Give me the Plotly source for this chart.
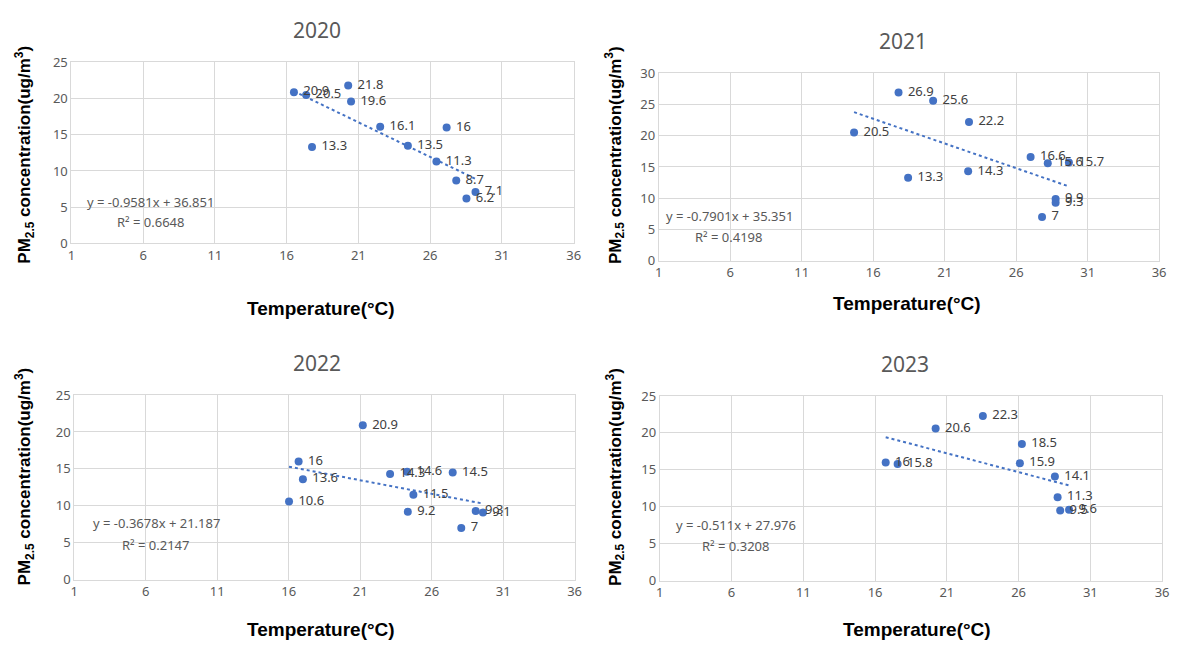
import plotly.graph_objects as go

W, H = 1178, 649

# ---------------- data ----------------
years = ["2020", "2021", "2022", "2023"]

x2020 = [16.51, 17.36, 20.29, 20.49, 22.52, 27.15, 17.77, 24.45, 26.44, 27.82, 29.16, 28.53]
y2020 = [20.9, 20.5, 21.8, 19.6, 16.1, 16, 13.3, 13.5, 11.3, 8.7, 7.1, 6.2]

x2021 = [14.66, 17.77, 18.44, 20.19, 22.64, 22.7, 27.01, 28.21, 29.69, 28.76, 28.76, 27.81]
y2021 = [20.5, 26.9, 13.3, 25.6, 14.3, 22.2, 16.6, 15.6, 15.7, 9.9, 9.3, 7]

x2022 = [16.02, 16.69, 16.99, 21.18, 23.09, 24.28, 24.72, 24.33, 27.47, 28.07, 29.08, 29.59]
y2022 = [10.6, 16, 13.6, 20.9, 14.3, 14.6, 11.5, 9.2, 14.5, 7, 9.3, 9.1]

x2023 = [16.74, 17.57, 20.22, 23.51, 26.23, 26.09, 28.53, 28.72, 28.9, 29.52]
y2023 = [16, 15.8, 20.6, 22.3, 18.5, 15.9, 14.1, 11.3, 9.5, 9.6]

slopes = [-0.9581, -0.7901, -0.3678, -0.511]
intercepts = [36.851, 35.351, 21.187, 27.976]
eq_texts = ["y = -0.9581x + 36.851", "y = -0.7901x + 35.351",
            "y = -0.3678x + 21.187", "y = -0.511x + 27.976"]
r2_texts = ["R² = 0.6648", "R² = 0.4198", "R² = 0.2147", "R² = 0.3208"]
ymax = [25, 30, 25, 25]

xs = [x2020, x2021, x2022, x2023]
ys = [y2020, y2021, y2022, y2023]

# ---------------- layout geometry (pixels) ----------------
# plot areas: (left, right, top, bottom)
areas = [(68, 575, 55, 241), (661, 1166, 66, 259), (71, 576, 397, 587), (662, 1169, 398, 588)]
title_pos = [(316, 22), (907, 33), (316, 364), (909, 365)]
xtitle_pos = [(320, 308), (912, 303), (320, 638), (922, 638)]
ytitle_pos = [(21, 150), (617, 150), (21, 481), (617, 481)]
eq_pos = [(148, 199), (732, 213), (154, 529), (739, 531)]
r2_pos = [(148, 219), (732, 235), (153, 551), (739, 552)]

def px(x):
    return x / W

def py(y):
    return 1 - y / H

BLUE = "#4472C4"
FONT = "Noto Sans"

fig = go.Figure()
layout = dict(
    width=W, height=H, margin=dict(l=0, r=0, t=0, b=0),
    paper_bgcolor="white", plot_bgcolor="white", showlegend=False,
    font=dict(family=FONT, color="#595959"),
)
annotations = []

for i in range(4):
    n = "" if i == 0 else str(i + 1)
    xa, ya = "x" + n, "y" + n
    l, r, t, b = areas[i]
    axis_common = dict(
        showgrid=True, gridcolor="#d9d9d9", gridwidth=1,
        showline=True, linecolor="#d9d9d9", linewidth=1, mirror=True,
        zeroline=False, ticks="", tickfont=dict(size=13, color="#595959", family=FONT),
    )
    layout["xaxis" + n] = dict(axis_common, domain=[px(l), px(r)], range=[1, 36],
                               tick0=1, dtick=5, anchor=ya)
    layout["yaxis" + n] = dict(axis_common, domain=[py(b), py(t)], range=[0, ymax[i]],
                               tick0=0, dtick=5, anchor=xa)

    x = xs[i]
    y = ys[i]
    # trendline
    x0, x1 = min(x), max(x)
    fig.add_trace(go.Scatter(
        x=[x0, x1], y=[slopes[i] * x0 + intercepts[i], slopes[i] * x1 + intercepts[i]],
        mode="lines", line=dict(color=BLUE, width=2, dash="dot"),
        xaxis=xa, yaxis=ya, hoverinfo="skip"))
    # points
    fig.add_trace(go.Scatter(
        x=x, y=y, mode="markers+text",
        marker=dict(color=BLUE, size=8),
        text=["\u00a0" + str(v) for v in y], textposition="middle right",
        textfont=dict(size=13, color="#404040", family=FONT),
        xaxis=xa, yaxis=ya))

    tx, ty = title_pos[i]
    annotations.append(dict(text=years[i], x=px(tx), y=py(ty), xref="paper", yref="paper",
                            showarrow=False, font=dict(size=21, color="#595959", family=FONT),
                            xanchor="center", yanchor="middle"))
    tx, ty = xtitle_pos[i]
    annotations.append(dict(text="<b>Temperature(°C)</b>", x=px(tx), y=py(ty), xref="paper", yref="paper",
                            showarrow=False, font=dict(size=19, color="black", family="Liberation Sans"),
                            xanchor="center", yanchor="middle"))
    tx, ty = ytitle_pos[i]
    annotations.append(dict(text="<b>PM<sub>2.5</sub> concentration(ug/m<sup>3</sup>)</b>",
                            x=px(tx), y=py(ty), xref="paper", yref="paper", textangle=-90,
                            showarrow=False, font=dict(size=17, color="black", family="Liberation Sans"),
                            xanchor="center", yanchor="middle"))
    tx, ty = eq_pos[i]
    annotations.append(dict(text=eq_texts[i], x=px(tx), y=py(ty), xref="paper", yref="paper",
                            showarrow=False, font=dict(size=13, color="#595959", family=FONT),
                            xanchor="center", yanchor="middle"))
    tx, ty = r2_pos[i]
    annotations.append(dict(text=r2_texts[i], x=px(tx), y=py(ty), xref="paper", yref="paper",
                            showarrow=False, font=dict(size=13, color="#595959", family=FONT),
                            xanchor="center", yanchor="middle"))

layout["annotations"] = annotations
fig.update_layout(**layout)

fig.write_html("out.html", config={"displayModeBar": False},
               post_script="document.body.style.margin='0';document.body.style.overflow='hidden';")
